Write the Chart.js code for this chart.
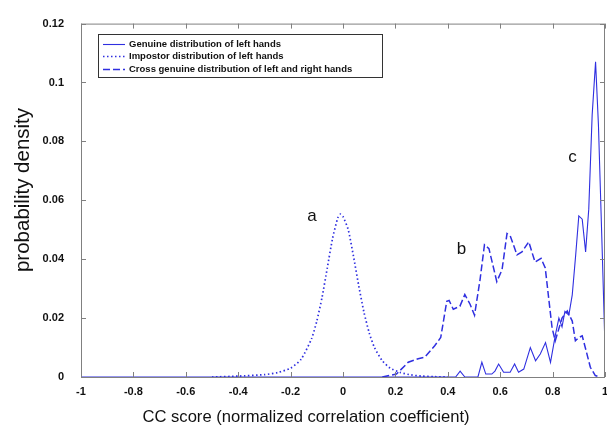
<!DOCTYPE html>
<html>
<head>
<meta charset="utf-8">
<script src="https://cdn.jsdelivr.net/npm/chart.js@4/dist/chart.umd.min.js"></script>
<style>
  html, body { margin: 0; padding: 0; background: #fff; }
  #wrap { width: 607px; height: 431px; position: relative; }
</style>
</head>
<body>
<div id="wrap"><canvas id="ccChart"></canvas></div>
<script>
// series
const genuineX = [-1, 0.40, 0.43, 0.447, 0.465, 0.5, 0.515, 0.53, 0.545, 0.568, 0.58, 0.594, 0.613, 0.638, 0.655, 0.67, 0.69, 0.715, 0.735, 0.753, 0.773, 0.792, 0.811, 0.824, 0.836, 0.847, 0.862, 0.875, 0.888, 0.9, 0.913, 0.926, 0.938, 0.951, 0.964, 0.975, 0.99, 1.0];
const genuineY = [0, 0, 0, 0.002, 0, 0, 0, 0.005, 0.001, 0.001, 0.002, 0.0044, 0.0016, 0.0016, 0.0044, 0.0016, 0.0027, 0.010, 0.0055, 0.0078, 0.0117, 0.005, 0.0145, 0.020, 0.017, 0.0223, 0.021, 0.0279, 0.0413, 0.0547, 0.0536, 0.0425, 0.057, 0.089, 0.107, 0.0855, 0.041, 0.01];

const impostorX = [-0.5, -0.4, -0.3, -0.25, -0.2, -0.16, -0.12, -0.1, -0.08, -0.06, -0.04, -0.02, -0.01, 0.0, 0.02, 0.04, 0.06, 0.08, 0.10, 0.12, 0.15, 0.18, 0.22, 0.26, 0.3, 0.35, 0.4];
const impostorY = [0, 0.0003, 0.0008, 0.0015, 0.003, 0.006, 0.013, 0.019, 0.027, 0.037, 0.047, 0.054, 0.0553, 0.0545, 0.050, 0.041, 0.031, 0.022, 0.015, 0.010, 0.0055, 0.003, 0.0015, 0.0007, 0.0003, 0.0001, 0];

const crossX = [0.15, 0.204, 0.249, 0.287, 0.312, 0.35, 0.373, 0.396, 0.405, 0.421, 0.446, 0.465, 0.485, 0.502, 0.523, 0.54, 0.557, 0.587, 0.607, 0.626, 0.638, 0.664, 0.683, 0.709, 0.733, 0.756, 0.772, 0.785, 0.798, 0.81, 0.836, 0.856, 0.875, 0.887, 0.9, 0.913, 0.928, 0.944, 0.963, 0.98];
const crossY = [0, 0.001, 0.005, 0.0062, 0.0067, 0.0106, 0.0134, 0.0257, 0.026, 0.023, 0.024, 0.028, 0.0247, 0.021, 0.033, 0.0449, 0.0436, 0.0324, 0.0364, 0.0487, 0.048, 0.0415, 0.0425, 0.0459, 0.039, 0.0403, 0.037, 0.0268, 0.0167, 0.0123, 0.020, 0.0224, 0.019, 0.0123, 0.0134, 0.014, 0.0089, 0.0033, 0.0005, 0];

const seriesNames = [
  'Genuine distribution of left hands',
  'Impostor distribution of left hands',
  'Cross genuine distribution of left and right hands'
];

const xTitle = 'CC score (normalized correlation coefficient)';
const yTitle = 'probability density';

// curve labels a, b, c
const noteText = ['a', 'b', 'c'];
const noteX = [-0.118, 0.452, 0.876];
const noteY = [0.0545, 0.0435, 0.0745];

const blue = '#2f2fe0';
const axisGrey = '#808080';
const fontFam = '"Liberation Sans", Arial, Helvetica, sans-serif';

const toPoints = (xs, ys) => xs.map((x, i) => ({ x: x, y: ys[i] }));

// inward MATLAB-style ticks on all four sides, legend box, axis titles and a/b/c labels
const decorations = {
  id: 'decorations',
  afterDraw(chart) {
    const ctx = chart.ctx;
    const area = chart.chartArea;
    const xs = chart.scales.x;
    const ys = chart.scales.y;
    ctx.save();

    ctx.strokeStyle = axisGrey;
    ctx.lineWidth = 1;
    ctx.strokeRect(area.left + 0.5, area.top + 0.5, area.right - area.left - 1, area.bottom - area.top);

    const tl = 5;
    ctx.beginPath();
    xs.ticks.forEach(t => {
      const px = Math.round(xs.getPixelForValue(t.value)) + 0.5;
      ctx.moveTo(px, area.bottom); ctx.lineTo(px, area.bottom - tl);
      ctx.moveTo(px, area.top); ctx.lineTo(px, area.top + tl);
    });
    ys.ticks.forEach(t => {
      const py = Math.round(ys.getPixelForValue(t.value)) + 0.5;
      ctx.moveTo(area.left, py); ctx.lineTo(area.left + tl, py);
      ctx.moveTo(area.right, py); ctx.lineTo(area.right - tl, py);
    });
    ctx.stroke();

    // legend
    const lx = 98, ly = 34, lw = 284, lh = 43;
    ctx.fillStyle = '#fff';
    ctx.fillRect(lx, ly, lw, lh);
    ctx.strokeStyle = '#333';
    ctx.strokeRect(lx + 0.5, ly + 0.5, lw, lh);
    ctx.font = 'bold 9.5px ' + fontFam;
    ctx.textBaseline = 'middle';
    ctx.textAlign = 'left';
    const rowY = [44, 56, 69];
    chart.data.datasets.forEach((ds, i) => {
      ctx.strokeStyle = ds.borderColor;
      ctx.lineWidth = ds.borderWidth;
      ctx.setLineDash(ds.borderDash || []);
      ctx.beginPath();
      ctx.moveTo(103, rowY[i] + 0.5);
      ctx.lineTo(125, rowY[i] + 0.5);
      ctx.stroke();
      ctx.setLineDash([]);
      ctx.fillStyle = '#111';
      ctx.fillText(ds.label, 129, rowY[i]);
    });

    // curve letters
    ctx.font = '17px ' + fontFam;
    ctx.fillStyle = '#111';
    ctx.textAlign = 'center';
    noteText.forEach((s, i) => {
      ctx.fillText(s, xs.getPixelForValue(noteX[i]), ys.getPixelForValue(noteY[i]));
    });

    // axis titles (sit off-centre in the original figure)
    ctx.font = '16.6px ' + fontFam;
    ctx.fillText(xTitle, 306, 417);
    ctx.translate(23, 190);
    ctx.rotate(-Math.PI / 2);
    ctx.font = '20.5px ' + fontFam;
    ctx.fillText(yTitle, 0, 0);
    ctx.restore();
  }
};

const fmt = v => String(Number(v.toFixed(2)));

new Chart(document.getElementById('ccChart'), {
  type: 'line',
  data: {
    datasets: [
      {
        label: seriesNames[0],
        data: toPoints(genuineX, genuineY),
        borderColor: blue,
        borderWidth: 1.1,
        pointRadius: 0,
        tension: 0,
        fill: false
      },
      {
        label: seriesNames[1],
        data: toPoints(impostorX, impostorY),
        borderColor: blue,
        borderWidth: 1.7,
        borderDash: [1.5, 2.5],
        pointRadius: 0,
        tension: 0.2,
        fill: false
      },
      {
        label: seriesNames[2],
        data: toPoints(crossX, crossY),
        borderColor: blue,
        borderWidth: 1.5,
        borderDash: [7, 3],
        pointRadius: 0,
        tension: 0,
        fill: false
      }
    ]
  },
  options: {
    responsive: true,
    maintainAspectRatio: false,
    animation: false,
    layout: { padding: { top: 19, right: 2, left: 0, bottom: 0 } },
    plugins: {
      legend: { display: false },
      tooltip: { enabled: false }
    },
    scales: {
      x: {
        type: 'linear',
        min: -1,
        max: 1,
        afterFit: s => { s.height = 54; s.paddingLeft = 0; s.paddingRight = 0; },
        grid: { display: false, drawTicks: false },
        border: { display: false },
        ticks: {
          stepSize: 0.2,
          padding: 8,
          color: '#111',
          maxRotation: 0,
          font: { family: fontFam, size: 11, weight: 'bold' },
          callback: v => fmt(v)
        }
      },
      y: {
        min: 0,
        max: 0.12,
        afterFit: s => { s.width = 81; },
        grid: { display: false, drawTicks: false },
        border: { display: false },
        ticks: {
          stepSize: 0.02,
          padding: 17,
          color: '#111',
          font: { family: fontFam, size: 11, weight: 'bold' },
          callback: v => fmt(v)
        }
      }
    }
  },
  plugins: [decorations]
});
</script>
</body>
</html>
